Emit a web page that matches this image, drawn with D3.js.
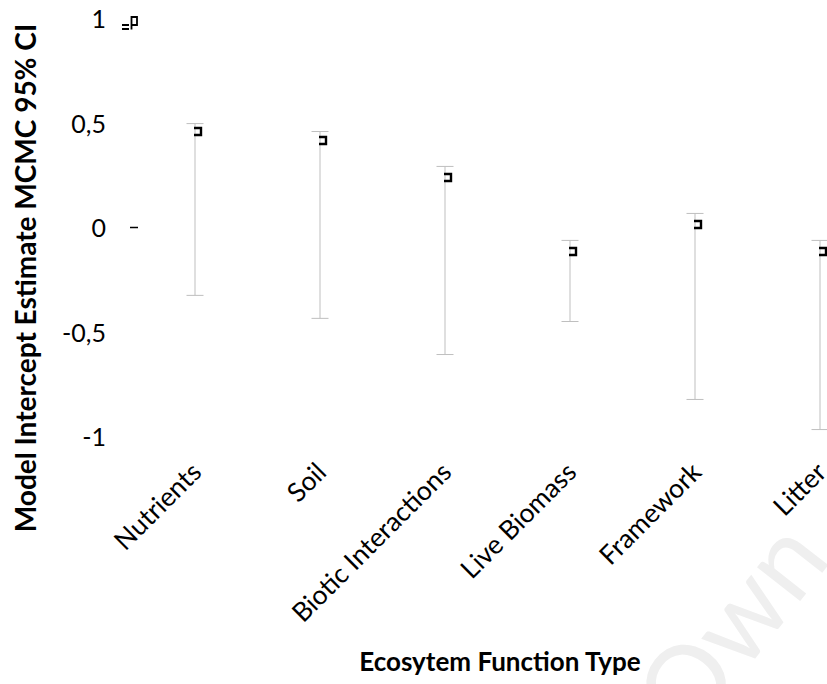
<!DOCTYPE html>
<html><head><meta charset="utf-8">
<script src="https://cdn.jsdelivr.net/npm/d3@7"></script>
<style>html,body{margin:0;padding:0;background:#fff;overflow:hidden}</style>
</head><body>
<svg id="chart" width="827" height="684"></svg>
<script>
const categories = ["Nutrients","Soil","Biotic Interactions","Live Biomass","Framework","Litter"];
const estimates = [0.464, 0.421, 0.244, -0.11, 0.019, -0.11];
const upperCI  = [0.502, 0.464, 0.297, -0.057, 0.072, -0.057];
const lowerCI  = [-0.32, -0.43, -0.603, -0.445, -0.818, -0.962];
const yTicks = [1, 0.5, 0, -0.5, -1];
const yTickLabels = ["1", "0,5", "0", "-0,5", "-1"];
const axisStrayValues = [1, 0];

const svg = d3.select("#chart");
const font = "Lato, 'Open Sans', sans-serif";

// watermark
svg.append("text").attr("transform","translate(690,742) rotate(-52)")
  .attr("font-family", font).attr("font-size", 108).attr("fill","#efefef")
  .text("Own");

const y = d3.scaleLinear().domain([-1, 1]).range([437.5, 19.5]);
const x = d3.scalePoint().domain(categories).range([195, 820]);

// y tick labels
const yAxis = d3.axisLeft(y).tickValues(yTicks).tickSize(0).tickPadding(0)
  .tickFormat((d,i) => yTickLabels[i]);
const gy = svg.append("g").attr("transform","translate(106,0)").call(yAxis);
gy.select(".domain").remove();
gy.selectAll("text").attr("font-family", font).attr("font-size", 25).attr("fill","#000");

// stray marks near axis
svg.append("line").attr("x1",130).attr("x2",138)
  .attr("y1",y(axisStrayValues[1])-1).attr("y2",y(axisStrayValues[1])-1)
  .attr("stroke","#000").attr("stroke-width",1.5);
const y1 = y(axisStrayValues[0]);
svg.append("path")
  .attr("d", `M122,${y1+5.5} H129 M122,${y1+9.5} H129 M131.5,${y1+10} V${y1-2.5} H137 V${y1+5.5} H131.5`)
  .attr("fill","none").attr("stroke","#000").attr("stroke-width",1.8);

const data = categories.map((c,i)=>({c, est:estimates[i], lo:lowerCI[i], hi:upperCI[i]}));

// error bars
const g = svg.append("g");
g.selectAll(".eb").data(data).join("line")
  .attr("x1",d=>x(d.c)).attr("x2",d=>x(d.c))
  .attr("y1",d=>y(d.hi)).attr("y2",d=>y(d.lo))
  .attr("stroke","#bfbfbf").attr("stroke-width",1);
g.selectAll(".capt").data(data).join("line")
  .attr("x1",d=>x(d.c)-8.5).attr("x2",d=>x(d.c)+8.5)
  .attr("y1",d=>y(d.hi)).attr("y2",d=>y(d.hi))
  .attr("stroke","#bfbfbf").attr("stroke-width",1);
g.selectAll(".capb").data(data).join("line")
  .attr("x1",d=>x(d.c)-8.5).attr("x2",d=>x(d.c)+8.5)
  .attr("y1",d=>y(d.lo)).attr("y2",d=>y(d.lo))
  .attr("stroke","#bfbfbf").attr("stroke-width",1);
// markers
g.selectAll(".mk").data(data).join("path")
  .attr("d",d=>{const cx=x(d.c), cy=y(d.est); return `M${cx-1},${cy-3.5} H${cx+6} V${cy+3.5} H${cx-1}`;})
  .attr("fill","none").attr("stroke","#000").attr("stroke-width",2.4);

// x labels
svg.selectAll(".xl").data(categories).join("text")
  .attr("transform",d=>`translate(${x(d)+8},${474}) rotate(-45)`)
  .attr("text-anchor","end").attr("font-family",font).attr("font-size",26.5)
  .text(d=>d);

// axis titles
svg.append("text").attr("transform","translate(36,278) rotate(-90)")
  .attr("text-anchor","middle").attr("font-family",font).attr("font-weight","bold")
  .attr("font-size",28).text("Model Intercept Estimate MCMC 95% CI");
svg.append("text").attr("x",500).attr("y",671)
  .attr("text-anchor","middle").attr("font-family",font).attr("font-weight","bold")
  .attr("font-size",26).text("Ecosytem Function Type");
</script>
</body></html>
